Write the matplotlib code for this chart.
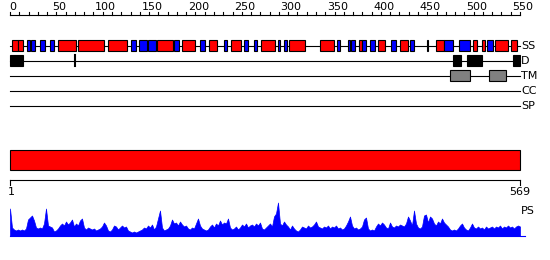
import numpy as np
import matplotlib
matplotlib.use('Agg')
import matplotlib.pyplot as plt
from matplotlib.patches import Rectangle

# sequence length and feature tracks (residue numbers)
seq_len = 569

ss_start = [3, 10, 20, 24, 34, 45, 54, 77, 110, 136, 145, 155, 165, 184, 193, 213,
            223, 239, 247, 262, 273, 280, 299, 306, 312, 346, 365, 377, 381, 390,
            393, 402, 411, 425, 435, 447, 465, 476, 484, 501, 517, 527, 532, 541, 559]
ss_end = [10, 16, 23, 29, 40, 50, 74, 106, 131, 141, 154, 164, 182, 189, 207, 218,
          232, 243, 258, 266, 276, 296, 302, 310, 329, 362, 368, 380, 385, 393,
          397, 408, 419, 431, 444, 451, 467, 484, 494, 513, 521, 530, 539, 556, 566]
ss_type = ['H', 'H', 'E', 'E', 'E', 'E', 'H', 'H', 'H', 'E', 'E', 'E', 'H', 'E', 'H', 'E',
           'H', 'E', 'H', 'E', 'E', 'H', 'E', 'E', 'H', 'H', 'E', 'E', 'E', 'H',
           'E', 'E', 'H', 'E', 'H', 'E', 'E', 'H', 'E', 'E', 'H', 'H', 'E', 'H', 'H']

dom_start = [1, 494, 510, 561]
dom_end = [16, 503, 527, 569]
dom_mark = [73]

tm_start = [491, 534]
tm_end = [513, 553]

track_names = ['SS', 'D', 'TM', 'CC', 'SP']
ruler_max = 550
ruler_ticks = list(range(0, 551, 10))
ruler_labels = list(range(0, 551, 50))

# PS profile, read left to right along the sequence
ps_values = [27, 8, 6, 5, 6, 5, 6, 5, 7, 16, 18, 20, 15, 8, 7, 8, 7, 12, 27, 10,
             9, 8, 4, 5, 7, 10, 12, 10, 14, 11, 13, 16, 9, 12, 10, 15, 17, 8, 6, 8,
             7, 6, 7, 5, 6, 7, 9, 13, 10, 5, 4, 6, 10, 9, 6, 8, 10, 8, 9, 5,
             4, 3, 4, 3, 4, 5, 6, 8, 7, 10, 8, 11, 6, 9, 17, 25, 8, 5, 6, 7,
             10, 16, 12, 13, 10, 14, 11, 9, 10, 7, 6, 8, 7, 12, 17, 10, 7, 6, 5, 6,
             9, 11, 8, 12, 10, 15, 11, 13, 12, 17, 8, 6, 7, 9, 6, 8, 11, 9, 12, 8,
             10, 11, 9, 12, 10, 13, 7, 6, 8, 10, 12, 9, 19, 22, 33, 12, 10, 14, 11, 9,
             6, 10, 7, 5, 4, 6, 9, 8, 7, 10, 8, 9, 11, 14, 9, 8, 7, 9, 8, 10,
             7, 9, 8, 10, 7, 8, 6, 7, 10, 14, 19, 10, 7, 8, 6, 7, 9, 16, 18, 7,
             5, 6, 5, 9, 12, 10, 13, 11, 8, 7, 13, 9, 8, 10, 9, 11, 10, 9, 12, 19,
             15, 10, 25, 12, 8, 7, 9, 20, 21, 13, 19, 17, 12, 10, 14, 12, 17, 13, 11, 9,
             6, 5, 6, 5, 7, 10, 12, 8, 6, 5, 8, 12, 8, 7, 9, 7, 8, 6, 9, 7,
             8, 9, 7, 9, 8, 10, 7, 9, 8, 10, 8, 9, 7, 9, 10, 9]

X0, X1 = 10, 520


def rx(r):
    # residue number -> pixel column
    return X0 + (np.asarray(r, dtype=float) - 1) * (X1 - X0) / (seq_len - 1)


def ux(u):
    # top ruler units -> pixel column
    return X0 + np.asarray(u, dtype=float) * (X1 - X0) / ruler_max


fig = plt.figure(figsize=(5.5, 2.6), dpi=100)
ax = fig.add_axes([0, 0, 1, 1])
ax.set_xlim(0, 550)
ax.set_ylim(260, 0)
ax.axis('off')

lw = 0.8
fs = 8

# top ruler
ax.plot([X0, X1], [15, 15], c='k', lw=lw)
for t in ruler_ticks:
    ax.plot([ux(t), ux(t)], [12, 15], c='k', lw=lw)
for t in ruler_labels:
    ax.text(ux(t) + 3, 11.5, str(t), ha='center', va='bottom', fontsize=fs)

# tracks
track_y = [45.5, 60.5, 75.5, 90.5, 105.5]
for name, y in zip(track_names, track_y):
    ax.plot([X0, X1], [y, y], c='k', lw=lw, zorder=1)
    ax.text(X1 + 1, y + 0.5, name, ha='left', va='center', fontsize=fs)

ys = track_y[0]
for a, b, t in zip(ss_start, ss_end, ss_type):
    col = 'red' if t == 'H' else 'blue'
    ax.add_patch(Rectangle((rx(a), ys - 5.5), rx(b) - rx(a), 11, fc=col, ec='k', lw=lw, zorder=2))

yd = track_y[1]
for a, b in zip(dom_start, dom_end):
    ax.add_patch(Rectangle((rx(a), yd - 5.5), rx(b) - rx(a), 11, fc='k', ec='k', lw=lw, zorder=2))
for m in dom_mark:
    ax.plot([rx(m), rx(m)], [yd - 5.5, yd + 5.5], c='k', lw=1.5, zorder=2)

yt = track_y[2]
for a, b in zip(tm_start, tm_end):
    ax.add_patch(Rectangle((rx(a), yt - 5.5), rx(b) - rx(a), 11, fc='#808080', ec='k', lw=lw, zorder=2))

# full-length bar
ax.add_patch(Rectangle((rx(1), 150), rx(seq_len) - rx(1), 20, fc='red', ec='k', lw=lw))

# bottom ruler
ax.plot([X0, X1], [180, 180], c='k', lw=lw)
ax.plot([X0, X0], [180, 185], c='k', lw=lw)
ax.plot([X1, X1], [180, 185], c='k', lw=lw)
ax.text(rx(1) + 1, 187, '1', ha='center', va='top', fontsize=fs)
ax.text(rx(seq_len), 187, str(seq_len), ha='center', va='top', fontsize=fs)
ax.text(X1 + 1, 211, 'PS', ha='left', va='center', fontsize=fs)

# PS profile
base = 235.5
px = rx(np.linspace(1, seq_len, len(ps_values)))
ax.fill_between(px, base, base - np.array(ps_values), color='blue', lw=0.5)
ax.plot([X0, X1 + 5], [base, base], c='blue', lw=lw)

fig.savefig('out.png', dpi=100)
